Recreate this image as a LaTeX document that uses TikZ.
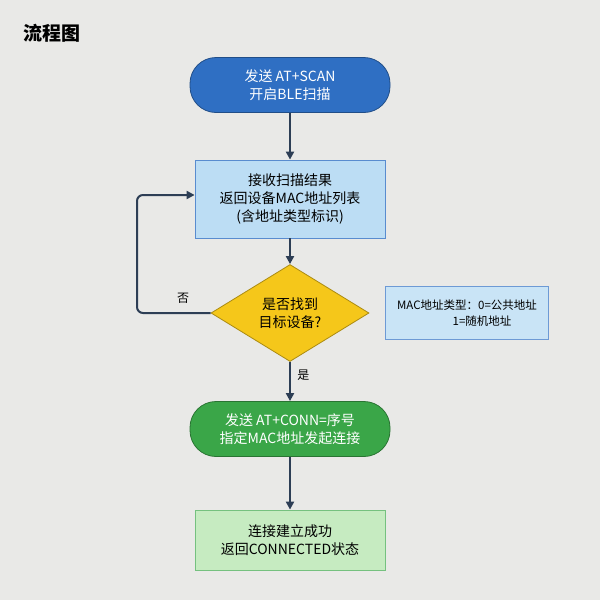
\documentclass[tikz,border=0pt]{standalone}
\usepackage{fontspec}
\setmainfont{Noto Sans CJK SC}
\usetikzlibrary{shapes.geometric,arrows.meta}
\definecolor{bg}{HTML}{E9E9E7}
\definecolor{arr}{HTML}{2D3E55}
\definecolor{b1}{HTML}{2F6FC3}
\definecolor{b2}{HTML}{BCDDF4}
\definecolor{yel}{HTML}{F5C71A}
\definecolor{g1}{HTML}{3AA648}
\definecolor{g2}{HTML}{C6EBC1}
\begin{document}
\begin{tikzpicture}[x=1pt,y=-1pt,
  txt/.style={font=\fontsize{14}{18}\selectfont,align=center},
  pill/.style={txt,rounded corners=26pt,minimum width=200pt,minimum height=55pt,text=white,draw=#1!70!black,fill=#1,line width=0.8pt},
  box/.style={txt,minimum width=190pt,draw=#1,line width=0.8pt},
  ar/.style={-{Triangle[length=8pt,width=8pt]},arr,line width=2pt}]
\useasboundingbox[fill=bg] (0,0) rectangle (600,600);
\node[font=\fontsize{19}{22}\selectfont\bfseries,anchor=west] (t) at (20,33) {流程图};
\node[pill=b1] (n1) at (290,85) {发送 AT+SCAN\\开启BLE扫描};
\node[box=b1!80,fill=b2,minimum height=78pt] (n2) at (290,199) {接收扫描结果\\返回设备MAC地址列表\\(含地址类型标识)};
\node[txt,diamond,aspect=1.65,fill=yel,draw=yel!70!black,line width=0.8pt,minimum width=158pt,minimum height=97pt,inner sep=0pt] (d) at (290,313) {是否找到\\目标设备?};
\node[txt,font=\fontsize{11.5}{16}\selectfont,draw=b1!70,fill=b2!80,minimum width=163pt,minimum height=53pt] (note) at (467,313) {MAC地址类型：0=公共地址\\\hspace*{30pt}1=随机地址};
\node[pill=g1] (n4) at (290,429) {发送 AT+CONN=序号\\指定MAC地址发起连接};
\node[box=g1!70,fill=g2,minimum height=60pt] (n5) at (290,540) {连接建立成功\\返回CONNECTED状态};
\coordinate (c1) at (137,313);
\coordinate (c2) at (137,195);
\draw[ar] (n1) -- (n2);
\draw[ar] (n2) -- (d);
\draw[ar] (d) -- node[right,txt,font=\fontsize{12}{14}\selectfont,text=black,pos=0.35,xshift=3pt] (y) {是} (n4);
\draw[ar] (n4) -- (n5);
\draw[ar,rounded corners=6pt] (d.west) -- (c1) -- (c2) -- (n2.west|-c2);
\node[font=\fontsize{12}{14}\selectfont] (no) at (183,298) {否};
\end{tikzpicture}
\end{document}
